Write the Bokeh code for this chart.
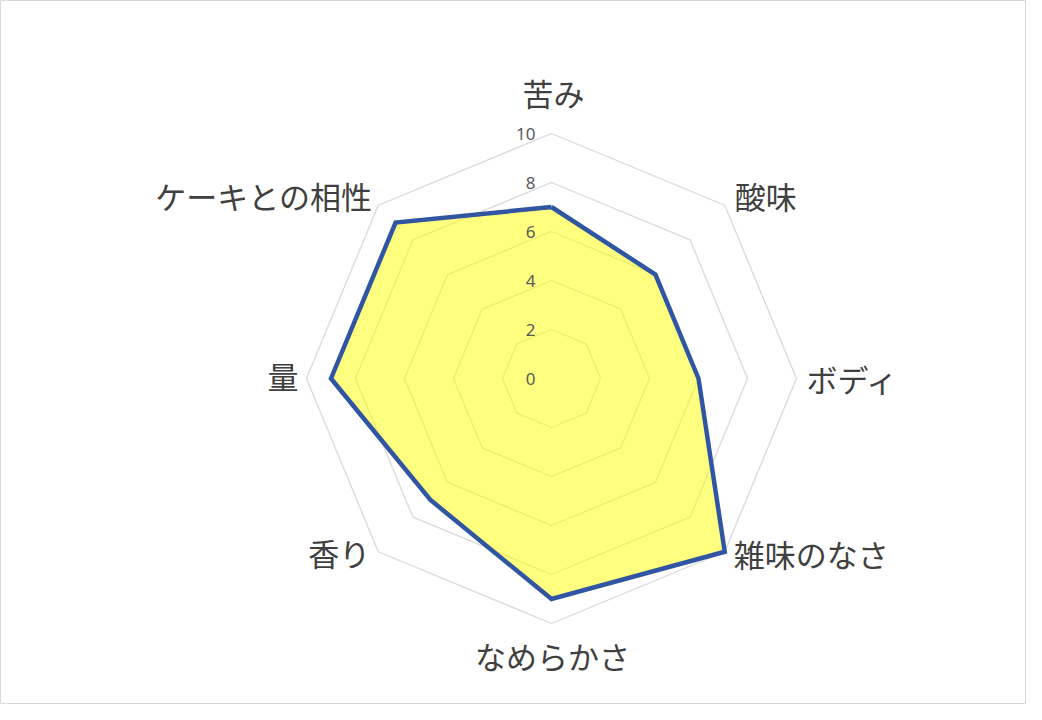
import numpy as np
from bokeh.plotting import figure
from bokeh.models import Range1d
from bokeh.core.properties import value
from bokeh.embed import file_html
from bokeh.resources import INLINE

categories = ["苦み", "酸味", "ボディ", "雑味のなさ", "なめらかさ", "香り", "量", "ケーキとの相性"]
scores = [7, 6, 6, 10, 9, 7, 9, 9]
ring_levels = [2, 4, 6, 8, 10]
tick_labels = ["0", "2", "4", "6", "8", "10"]
tick_values = [0, 2, 4, 6, 8, 10]

W, H = 1026, 704
CX, CY = 551, 378          # centre in figure pixels (from top-left)
PX_PER_UNIT = 24.5

p = figure(width=W, height=H, output_backend="svg", toolbar_location=None,
           x_range=Range1d(-CX, W - CX), y_range=Range1d(-(H - CY), CY),
           min_border=0, background_fill_color="white", border_fill_color="white",
           outline_line_color="#d9d9d9", outline_line_width=1)
p.xaxis.visible = False
p.yaxis.visible = False
p.xgrid.visible = False
p.ygrid.visible = False

n = len(categories)
angles = np.pi / 2 - np.arange(n) * 2 * np.pi / n

# grid rings
for lv in ring_levels:
    r = lv * PX_PER_UNIT
    xs = list(r * np.cos(angles)) + [r * np.cos(angles[0])]
    ys = list(r * np.sin(angles)) + [r * np.sin(angles[0])]
    p.line(xs, ys, line_color="#d9d9d9", line_width=1.3)

# data polygon
rs = np.array(scores) * PX_PER_UNIT
px = rs * np.cos(angles)
py = rs * np.sin(angles)
p.patch(list(px), list(py), fill_color="#ffff00", fill_alpha=0.5, line_color=None)
p.line(list(px) + [px[0]], list(py) + [py[0]], line_color="#2f55a3", line_width=4.5,
       line_join="miter")

# tick labels
p.text(x=[-16] * len(tick_values), y=[v * PX_PER_UNIT for v in tick_values], text=tick_labels,
       text_align="right", text_baseline="middle", text_font=value("Noto Sans"),
       text_font_size="17px", text_color="#595959")

# category labels
R10 = 10 * PX_PER_UNIT
off_x = [2, 10, 10, 9, 1, -8, -8, -6]
off_y = [41, 10, 0, -2, -32, -1, 3, 10]
aligns = ["center", "left", "left", "left", "center", "right", "right", "right"]
lx = [R10 * np.cos(a) + dx for a, dx in zip(angles, off_x)]
ly = [R10 * np.sin(a) + dy for a, dy in zip(angles, off_y)]
for x, y, t, al in zip(lx, ly, categories, aligns):
    p.text(x=[x], y=[y], text=[t], text_align=al, text_baseline="middle",
           text_font=value("Noto Sans CJK JP"), text_font_size="31px",
           text_color="#404040")

open("out.html", "w").write(file_html(p, INLINE))
